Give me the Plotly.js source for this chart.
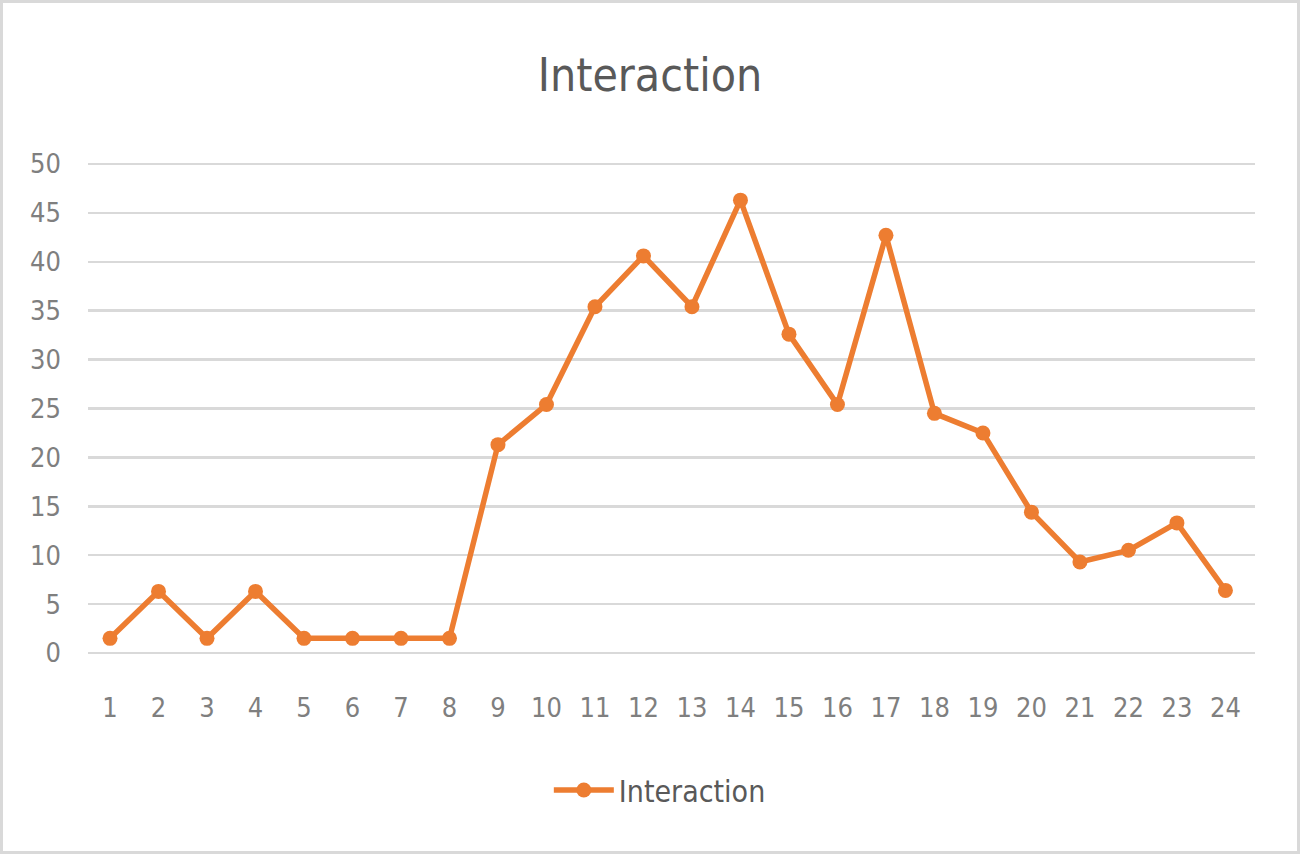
<!DOCTYPE html>
<html>
<head>
<meta charset="utf-8">
<script src="https://cdn.plot.ly/plotly-3.0.1.min.js"></script>
<style>
  html, body { margin: 0; padding: 0; background: #fff; }
  #wrap { position: relative; width: 1300px; height: 854px; }
  #chart { width: 1300px; height: 854px; }
  #frame { position: absolute; left: 0; top: 0; width: 1300px; height: 854px; box-sizing: border-box; border: 3px solid #d9d9d9; pointer-events: none; }
</style>
</head>
<body>
<div id="wrap">
  <div id="chart"></div>
  <div id="frame"></div>
</div>
<script>
const hours = ['1','2','3','4','5','6','7','8','9','10','11','12','13','14','15','16','17','18','19','20','21','22','23','24'];
const interaction = [1.5, 6.3, 1.5, 6.3, 1.5, 1.5, 1.5, 1.5, 21.3, 25.4, 35.4, 40.6, 35.4, 46.3, 32.6, 25.4, 42.7, 24.5, 22.5, 14.4, 9.3, 10.5, 13.3, 6.4];
const yTicks = [0, 5, 10, 15, 20, 25, 30, 35, 40, 45, 50];
const seriesName = 'Interaction';
const chartTitle = 'Interaction';

const fontFam = '"Liberation Sans Narrow", "DejaVu Sans Condensed", "Liberation Sans", sans-serif';
const orange = '#ED7D31';

const trace = {
  type: 'scatter',
  mode: 'lines+markers',
  x: hours,
  y: interaction,
  name: seriesName,
  line: { color: orange, width: 5.5 },
  marker: { color: orange, size: 15, symbol: 'circle' }
};

const layout = {
  width: 1300,
  height: 854,
  paper_bgcolor: '#ffffff',
  plot_bgcolor: '#ffffff',
  margin: { l: 88, r: 45, t: 162, b: 201 },
  title: {
    text: chartTitle,
    x: 0.5, xanchor: 'center',
    y: 1 - 75 / 854, yanchor: 'middle', yref: 'container',
    font: { family: fontFam, size: 46, color: '#595959' }
  },
  showlegend: true,
  legend: {
    orientation: 'h',
    x: 0.49, xanchor: 'center',
    y: -(790 - 653) / 491, yanchor: 'middle',
    font: { family: fontFam, size: 30, color: '#595959' },
    itemwidth: 60
  },
  xaxis: {
    type: 'category',
    categoryorder: 'array',
    categoryarray: hours,
    range: [-0.454, 23.61],
    showgrid: false,
    zeroline: false,
    showline: false,
    ticks: '',
    ticklabelstandoff: 36,
    tickfont: { family: fontFam, size: 27, color: '#7f7f7f' }
  },
  yaxis: {
    range: [0, 50.2],
    tickvals: yTicks,
    ticktext: yTicks.map(String),
    showgrid: true,
    gridcolor: '#d9d9d9',
    gridwidth: 2.5,
    zeroline: true,
    zerolinecolor: '#d9d9d9',
    zerolinewidth: 2.5,
    showline: false,
    ticks: '',
    ticklabelstandoff: 26,
    tickfont: { family: fontFam, size: 27, color: '#7f7f7f' }
  }
};

Plotly.newPlot('chart', [trace], layout, { displayModeBar: false, staticPlot: true });
</script>
</body>
</html>
